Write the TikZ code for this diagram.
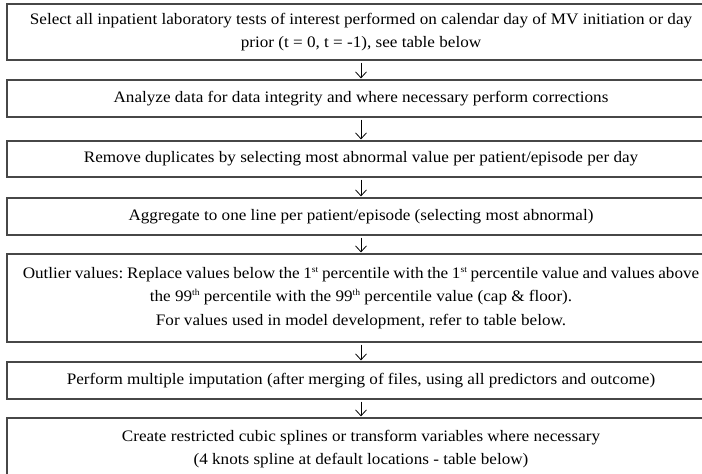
\documentclass[tikz,border=0pt]{standalone}
\usepackage{fontspec}
\setmainfont{Liberation Serif}[FakeStretch=1.07]
\usetikzlibrary{arrows.meta}
\newcommand{\supx}[1]{\raisebox{0.85ex}{\fontsize{9}{9}\selectfont #1}}
\begin{document}
\frenchspacing
\begin{tikzpicture}[x=1pt,y=-1pt,
  stepbox/.style={draw=black!72,line width=1.2pt,minimum width=708pt,inner sep=0pt,align=center,
    font=\fontsize{16}{23.3}\selectfont},
  flow/.style={draw=black,line width=0.8pt,-{Straight Barb[length=6pt,width=11pt,line width=0.8pt]},shorten <=2pt,shorten >=1pt}]
\useasboundingbox (0,0) rectangle (702,474);
\clip (0,0) rectangle (702,474);
\node[stepbox,minimum height=56pt] (b1) at (361,32) {Select all inpatient laboratory tests of interest performed on calendar day of MV initiation or day\\prior (t = 0, t = -1), see table below};
\node[stepbox,minimum height=37pt] (b2) at (361,98.5) {Analyze data for data integrity and where necessary perform corrections};
\node[stepbox,minimum height=36pt] (b3) at (361,159) {Remove duplicates by selecting most abnormal value per patient/episode per day};
\node[stepbox,minimum height=37pt] (b4) at (361,216.5) {Aggregate to one line per patient/episode (selecting most abnormal)};
\node[stepbox,minimum height=88pt] (b5) at (361,298) {{\spaceskip=0.23em plus 0.05em minus 0.05em Outlier values: Replace values below the 1\supx{st} percentile with the 1\supx{st} percentile value and values above}\\the 99\supx{th} percentile with the 99\supx{th} percentile value (cap \& floor).\\For values used in model development, refer to table below.};
\node[stepbox,minimum height=37pt] (b6) at (361,380.5) {Perform multiple imputation (after merging of files, using all predictors and outcome)};
\node[stepbox,minimum height=62pt] (b7) at (361,449) {Create restricted cubic splines or transform variables where necessary\\(4 knots spline at default locations - table below)};
\foreach \a/\b in {b1/b2,b2/b3,b3/b4,b4/b5,b5/b6,b6/b7}
  \draw[flow] (\a.south) -- (\b.north);
\end{tikzpicture}
\end{document}
